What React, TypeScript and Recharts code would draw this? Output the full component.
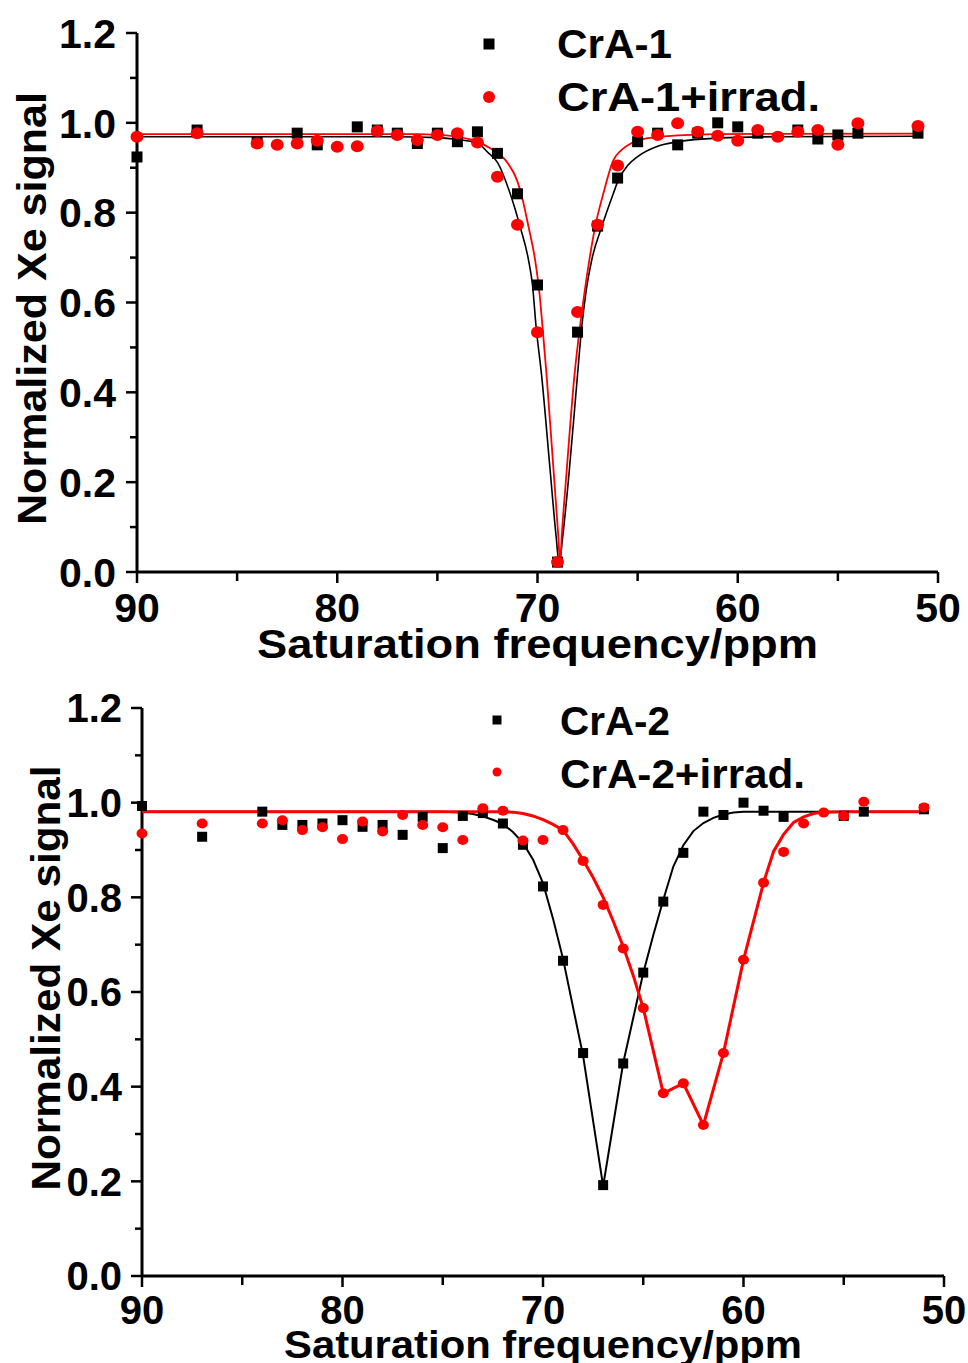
import React from 'react';
import { ScatterChart, Scatter, XAxis, YAxis, Label, Legend } from 'recharts';

const FONT = "'Liberation Sans', Arial, Helvetica, sans-serif";

// ---------- axes ----------
const xTicks = [90, 85, 80, 75, 70, 65, 60, 55, 50];
const xTickLabels = ['90', '80', '70', '60', '50'];
const yTicks = [0, 0.1, 0.2, 0.3, 0.4, 0.5, 0.6, 0.7, 0.8, 0.9, 1.0, 1.1, 1.2];
const yTickLabels = ['0.0', '0.2', '0.4', '0.6', '0.8', '1.0', '1.2'];
const xTitle = 'Saturation frequency/ppm';
const yTitle = 'Normalized Xe signal';

// ---------- panel 1 : CrA-1 ----------
const crA1Name = 'CrA-1';
const crA1Ppm = [90, 87, 84, 82, 81, 79, 78, 77, 76, 75, 74, 73, 72, 71, 70, 69, 68, 67, 66, 65, 64, 63, 62, 61, 60, 59, 57, 56, 55, 54, 51];
const crA1Signal = [0.924, 0.984, 0.958, 0.977, 0.951, 0.991, 0.984, 0.977, 0.954, 0.977, 0.958, 0.980, 0.932, 0.842, 0.639, 0.022, 0.534, 0.770, 0.877, 0.958, 0.977, 0.951, 0.977, 1.000, 0.991, 0.977, 0.984, 0.964, 0.973, 0.977, 0.977];

const crA1IrrName = 'CrA-1+irrad.';
const crA1IrrPpm = [90, 87, 84, 83, 82, 81, 80, 79, 78, 77, 76, 75, 74, 73, 72, 71, 70, 69, 68, 67, 66, 65, 64, 63, 62, 61, 60, 59, 58, 57, 56, 55, 54, 51];
const crA1IrrSignal = [0.969, 0.977, 0.954, 0.951, 0.954, 0.960, 0.947, 0.948, 0.982, 0.973, 0.962, 0.973, 0.977, 0.956, 0.880, 0.773, 0.534, 0.022, 0.579, 0.773, 0.905, 0.980, 0.973, 0.999, 0.980, 0.971, 0.960, 0.984, 0.969, 0.980, 0.984, 0.951, 0.999, 0.993];

// fitted curves
const crA1FitPpm = [90, 77, 75, 74, 73, 72.5, 72, 71.37, 70.87, 70.45, 70.25, 70.07, 69.8, 69.37, 69.07, 68.92, 68.74, 68.41, 68.0, 67.79, 67.59, 67.29, 66.79, 66.21, 65.96, 65.5, 65, 64, 63, 61, 58, 51];
const crA1FitSignal = [0.969, 0.969, 0.967, 0.963, 0.955, 0.935, 0.912, 0.843, 0.769, 0.695, 0.639, 0.546, 0.44, 0.227, 0.079, 0.02, 0.079, 0.227, 0.44, 0.546, 0.62, 0.695, 0.769, 0.843, 0.873, 0.905, 0.925, 0.948, 0.958, 0.966, 0.969, 0.970];

const crA1IrrFitPpm = [90, 76, 75, 74, 73, 72.5, 72, 71.6, 70.82, 70.45, 70.12, 69.9, 69.75, 69.55, 69.2, 68.96, 68.87, 68.79, 68.54, 68.15, 67.88, 67.66, 67.41, 67.12, 66.71, 66.21, 65.8, 65.3, 64.5, 63, 61, 51];
const crA1IrrFitSignal = [0.975, 0.975, 0.973, 0.969, 0.958, 0.947, 0.933, 0.917, 0.843, 0.769, 0.695, 0.62, 0.546, 0.44, 0.227, 0.079, 0.02, 0.079, 0.227, 0.44, 0.546, 0.62, 0.695, 0.769, 0.843, 0.917, 0.94, 0.955, 0.966, 0.972, 0.975, 0.976];

// ---------- panel 2 : CrA-2 ----------
const crA2Name = 'CrA-2';
const crA2Ppm = [90, 87, 84, 83, 82, 81, 80, 79, 78, 77, 76, 75, 74, 73, 72, 71, 70, 69, 68, 67, 66, 65, 64, 63, 62, 61, 60, 59, 58, 55, 54, 51];
const crA2Signal = [0.993, 0.928, 0.981, 0.953, 0.953, 0.956, 0.963, 0.949, 0.953, 0.932, 0.970, 0.904, 0.972, 0.978, 0.956, 0.911, 0.823, 0.666, 0.471, 0.192, 0.449, 0.641, 0.791, 0.894, 0.981, 0.974, 1.000, 0.983, 0.970, 0.972, 0.981, 0.986];

const crA2IrrName = 'CrA-2+irrad.';
const crA2IrrPpm = [90, 87, 84, 83, 82, 81, 80, 79, 78, 77, 76, 75, 74, 73, 72, 71, 70, 69, 68, 67, 66, 65, 64, 63, 62, 61, 60, 59, 58, 57, 56, 55, 54, 51];
const crA2IrrSignal = [0.935, 0.956, 0.956, 0.963, 0.942, 0.948, 0.923, 0.960, 0.939, 0.974, 0.953, 0.948, 0.921, 0.988, 0.983, 0.920, 0.921, 0.942, 0.877, 0.784, 0.692, 0.566, 0.386, 0.407, 0.319, 0.471, 0.668, 0.831, 0.896, 0.956, 0.979, 0.972, 1.002, 0.990];

const crA2FitPpm = [90, 75, 74, 73.5, 73, 72.5, 72, 71.5, 71, 70.5, 70, 69.5, 69, 68, 67, 66, 65, 64.5, 64, 63.5, 63, 62.5, 62, 61.5, 61, 60.5, 60, 51];
const crA2FitSignal = [0.981, 0.981, 0.979, 0.976, 0.971, 0.964, 0.955, 0.938, 0.915, 0.88, 0.83, 0.755, 0.67, 0.465, 0.19, 0.45, 0.64, 0.72, 0.795, 0.865, 0.91, 0.94, 0.957, 0.968, 0.975, 0.979, 0.981, 0.981];

const crA2IrrFitPpm = [90, 72, 71.5, 71, 70.5, 70, 69.5, 69, 68.5, 68, 67.5, 67, 66.5, 66, 65.5, 65, 64, 63, 62, 61, 60, 59, 58.5, 58, 57.5, 57, 56.5, 56, 55, 51];
const crA2IrrFitSignal = [0.981, 0.981, 0.980, 0.977, 0.972, 0.964, 0.954, 0.942, 0.913, 0.879, 0.842, 0.80, 0.75, 0.696, 0.635, 0.566, 0.386, 0.407, 0.319, 0.471, 0.668, 0.831, 0.897, 0.933, 0.958, 0.970, 0.977, 0.980, 0.981, 0.981];

const zip = (xs: number[], ys: number[]) => xs.map((x, i) => ({ x, y: ys[i] }));

const Square = (size: number) => (props: any) => {
  const { cx, cy } = props;
  if (cx == null || cy == null) return <g />;
  return <rect x={cx - size / 2} y={cy - size / 2} width={size} height={size} fill="#000" />;
};
const Dot = (rx: number, ry: number) => (props: any) => {
  const { cx, cy } = props;
  if (cx == null || cy == null) return <g />;
  return <ellipse cx={cx} cy={cy} rx={rx} ry={ry} fill="#ff0000" />;
};
const NoShape = () => <g />;

type PanelCfg = {
  top: number;
  height: number;
  plotTop: number;
  plotLeft: number;
  plotRight: number;
  xAxisH: number;
  tickFont: number;
  yLabelRight: number;
  xLabelDy: number;
  xTitleDy: number;
  xTitleLen: number;
  xTitleFont: number;
  yTitleX: number;
  yTitleDy: number;
  yTitleLen: number;
  names: string[];
  legend: { markerX: number; sqY: number; dotY: number; textX: number; b1: number; b2: number; len1: number; len2: number; sq: number; r: number };
  black: { x: number; y: number }[];
  red: { x: number; y: number }[];
  blackFit: { x: number; y: number }[];
  redFit: { x: number; y: number }[];
  fitType: any;
  blackW: number;
  redW: number;
  sqSize: number;
  dotRx: number;
  dotRy: number;
};

const Panel = ({ c }: { c: PanelCfg }) => {
  const XTick = (p: any) => {
    const { x, y, payload } = p;
    const lbl = String(payload.value);
    const major = xTickLabels.includes(lbl);
    return (
      <g>
        <line x1={x} x2={x} y1={y} y2={y + (major ? 11 : 9)} stroke="#000" strokeWidth={2.5} />
        {major && (
          <text x={x} y={y + c.xLabelDy} textAnchor="middle" fontFamily={FONT} fontWeight="bold" fontSize={c.tickFont} fill="#000">
            {lbl}
          </text>
        )}
      </g>
    );
  };
  const YTick = (p: any) => {
    const { x, y, payload } = p;
    const lbl = Number(payload.value).toFixed(1);
    const major = yTickLabels.includes(lbl);
    return (
      <g>
        <line x1={x - (major ? 11 : 7)} x2={x} y1={y} y2={y} stroke="#000" strokeWidth={2.5} />
        {major && (
          <text x={c.yLabelRight} y={y + c.tickFont * 0.36} textAnchor="end" fontFamily={FONT} fontWeight="bold" fontSize={c.tickFont} fill="#000">
            {lbl}
          </text>
        )}
      </g>
    );
  };
  const XTitle = (p: any) => {
    const vb = p.viewBox || {};
    const cx = vb.x + vb.width / 2;
    return (
      <text x={cx} y={vb.y + c.xTitleDy} textAnchor="middle" fontFamily={FONT} fontWeight="bold" fontSize={c.xTitleFont} fill="#000" textLength={c.xTitleLen} lengthAdjust="spacingAndGlyphs">
        {xTitle}
      </text>
    );
  };
  const YTitle = (p: any) => {
    const vb = p.viewBox || {};
    const cy = vb.y + vb.height / 2 + c.yTitleDy;
    const cx = c.yTitleX;
    return (
      <text x={cx} y={cy} transform={`rotate(-90, ${cx}, ${cy})`} textAnchor="middle" fontFamily={FONT} fontWeight="bold" fontSize={41} fill="#000" textLength={c.yTitleLen} lengthAdjust="spacingAndGlyphs">
        {yTitle}
      </text>
    );
  };
  const L = c.legend;
  const LegendContent = () => (
    <svg width={968} height={130} style={{ display: 'block', overflow: 'visible' }}>
      <rect x={L.markerX - L.sq / 2} y={L.sqY - L.sq / 2} width={L.sq} height={L.sq} fill="#000" />
      <text x={L.textX} y={L.b1} fontFamily={FONT} fontWeight="bold" fontSize={40} fill="#000" textLength={L.len1} lengthAdjust="spacingAndGlyphs">
        {c.names[0]}
      </text>
      <circle cx={L.markerX} cy={L.dotY} r={L.r} fill="#ff0000" />
      <text x={L.textX} y={L.b2} fontFamily={FONT} fontWeight="bold" fontSize={40} fill="#000" textLength={L.len2} lengthAdjust="spacingAndGlyphs">
        {c.names[1]}
      </text>
    </svg>
  );

  return (
    <div style={{ position: 'absolute', left: 0, top: c.top, width: 968, height: c.height }}>
      <ScatterChart
        width={968}
        height={c.height}
        margin={{ top: c.plotTop, right: 968 - c.plotRight, left: 0, bottom: 0 }}
      >
        <XAxis
          type="number"
          dataKey="x"
          domain={[50, 90]}
          reversed
          ticks={xTicks}
          interval={0}
          height={c.xAxisH}
          tickSize={0}
          tickMargin={0}
          tickLine={false}
          axisLine={{ stroke: '#000', strokeWidth: 3 }}
          tick={<XTick />}
        >
          <Label content={<XTitle />} />
        </XAxis>
        <YAxis
          type="number"
          dataKey="y"
          domain={[0, 1.2]}
          ticks={yTicks}
          interval={0}
          width={c.plotLeft}
          tickSize={0}
          tickMargin={0}
          tickLine={false}
          axisLine={{ stroke: '#000', strokeWidth: 3 }}
          tick={<YTick />}
        >
          <Label content={<YTitle />} />
        </YAxis>
        <Legend
          layout="horizontal"
          verticalAlign="middle"
          align="center"
          content={<LegendContent />}
          wrapperStyle={{ left: 0, top: 0, width: 968, height: 130 }}
        />
        <Scatter
          data={c.blackFit}
          fill="#000"
          line={{ stroke: '#000', strokeWidth: c.blackW }}
          lineJointType={c.fitType}
          shape={NoShape}
          legendType="none"
          isAnimationActive={false}
        />
        <Scatter
          data={c.redFit}
          fill="#ff0000"
          line={{ stroke: '#ff0000', strokeWidth: c.redW }}
          lineJointType={c.fitType === 'monotoneX' ? 'monotoneX' : 'linear'}
          shape={NoShape}
          legendType="none"
          isAnimationActive={false}
        />
        <Scatter name={c.names[0]} data={c.black} fill="#000" shape={Square(c.sqSize)} isAnimationActive={false} />
        <Scatter name={c.names[1]} data={c.red} fill="#ff0000" shape={Dot(c.dotRx, c.dotRy)} isAnimationActive={false} />
      </ScatterChart>
    </div>
  );
};

const panel1: PanelCfg = {
  top: 0,
  height: 680,
  plotTop: 33,
  plotLeft: 137,
  plotRight: 938,
  xAxisH: 108,
  tickFont: 41,
  yLabelRight: 116,
  xLabelDy: 50,
  xTitleDy: 86,
  xTitleLen: 561,
  xTitleFont: 41,
  yTitleX: 46,
  yTitleDy: 6,
  yTitleLen: 433,
  names: [crA1Name, crA1IrrName],
  legend: { markerX: 489, sqY: 44, dotY: 97, textX: 557, b1: 58, b2: 111, len1: 115, len2: 263, sq: 11, r: 6 },
  black: zip(crA1Ppm, crA1Signal),
  red: zip(crA1IrrPpm, crA1IrrSignal),
  blackFit: zip(crA1FitPpm, crA1FitSignal),
  redFit: zip(crA1IrrFitPpm, crA1IrrFitSignal),
  fitType: 'monotoneX',
  blackW: 1.6,
  redW: 1.8,
  sqSize: 11,
  dotRx: 6.5,
  dotRy: 6,
};

const panel2: PanelCfg = {
  top: 680,
  height: 683,
  plotTop: 28,
  plotLeft: 142,
  plotRight: 944,
  xAxisH: 87,
  tickFont: 40,
  yLabelRight: 122,
  xLabelDy: 48,
  xTitleDy: 82,
  xTitleLen: 518,
  xTitleFont: 38,
  yTitleX: 60,
  yTitleDy: -14,
  yTitleLen: 425,
  names: [crA2Name, crA2IrrName],
  legend: { markerX: 497, sqY: 40, dotY: 92, textX: 560, b1: 55, b2: 108, len1: 110, len2: 245, sq: 9, r: 4.5 },
  black: zip(crA2Ppm, crA2Signal),
  red: zip(crA2IrrPpm, crA2IrrSignal),
  blackFit: zip(crA2FitPpm, crA2FitSignal),
  redFit: zip(crA2IrrFitPpm, crA2IrrFitSignal),
  fitType: 'linear',
  blackW: 2,
  redW: 3,
  sqSize: 10,
  dotRx: 5.5,
  dotRy: 5,
};

export default function App() {
  return (
    <div style={{ position: 'absolute', left: 0, top: 0, width: 968, height: 1363, background: '#fff', overflow: 'hidden' }}>
      <Panel c={panel1} />
      <Panel c={panel2} />
    </div>
  );
}
